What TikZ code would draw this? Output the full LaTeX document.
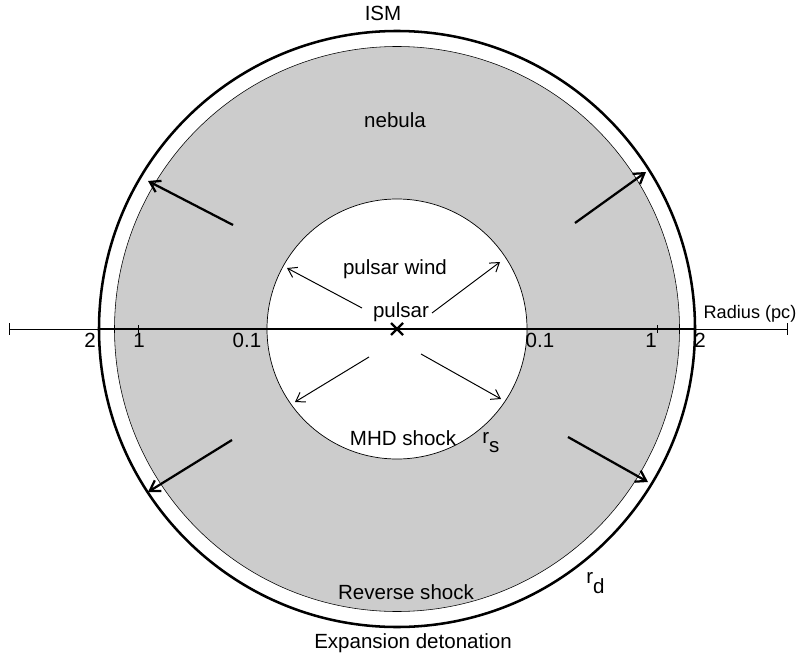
\documentclass[tikz,border=0pt]{standalone}
\usepackage{fontspec}
\setmainfont{Liberation Sans}
\usetikzlibrary{arrows.meta}
\definecolor{nebgray}{HTML}{CCCCCC}

\tikzset{
    lbl/.style={font=\fontsize{14.6}{17}\selectfont, inner sep=0pt, anchor=base},
    outflow/.style={line width=1.6pt, -{Straight Barb[length=7pt,width=9pt]}},
    wind/.style={line width=0.7pt, -{Straight Barb[length=6pt,width=8pt]}},
}

\begin{document}
\begin{tikzpicture}[x=0.025cm, y=-0.025cm]
    \useasboundingbox (0,0) rectangle (799,655);
    \coordinate (psr) at (397,329);

    % shells
    \fill[nebgray] (psr) circle[radius=282.5];
    \draw[line width=0.4pt] (psr) circle[radius=282.5];
    \draw[line width=1.8pt] (psr) circle[radius=298];
    \filldraw[fill=white, line width=0.5pt] (psr) circle[radius=130];

    % radius axis
    \draw[line width=0.4pt] (9,329) -- (787,329);
    \draw[line width=0.9pt] (99,329) -- (695,329);
    \foreach \x in {9, 787} {
        \draw[line width=0.4pt] (\x,323) -- (\x,335);
    }
    \foreach \x in {138, 657} {
        \draw[line width=0.4pt] (\x,325) -- (\x,333);
    }
    \foreach \x/\t in {90/2, 139/1, 247/0.1, 540/0.1, 651/1, 700/2} {
        \node[lbl] (tick\x) at (\x,347) {\t};
    }
    \node[lbl, font=\fontsize{12.9}{15}\selectfont] (axis) at (750,318) {Radius (pc)};

    % pulsar
    \draw[line width=1.6pt] (391,323) -- (403,335);
    \draw[line width=1.6pt] (391,335) -- (403,323);

    % wind arrows
    \foreach \xa/\ya/\xb/\yb in {362/308/287/268, 432/313/500/262,
                                 369/357/295/402, 421/354/501/399} {
        \draw[wind] (\xa,\ya) -- (\xb,\yb);
    }

    % nebula arrows
    \foreach \xa/\ya/\xb/\yb in {233/225/148/181, 575/223/646/172,
                                 232/440/148/492, 568/437/648/482} {
        \draw[outflow] (\xa,\ya) -- (\xb,\yb);
    }

    % labels
    \node[lbl] (ism) at (383,21) {ISM};
    \node[lbl] (neb) at (395,128) {nebula};
    \node[lbl] (pw) at (395,274) {pulsar wind};
    \node[lbl, fill=white, inner xsep=1pt] (pulsar) at (401,317) {pulsar};
    \node[lbl] (mhd) at (403,445) {MHD shock};
    \node[lbl, anchor=base west] (rs) at (482,443) {r\raisebox{-7pt}{s}};
    \node[lbl] (rev) at (406,599) {Reverse shock};
    \node[lbl, anchor=base west] (rd) at (586,583) {r\raisebox{-7.5pt}{d}};
    \node[lbl] (det) at (413,648) {Expansion detonation};
\end{tikzpicture}
\end{document}
